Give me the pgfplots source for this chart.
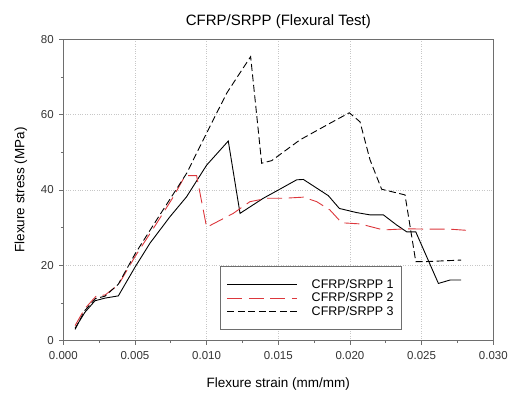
\documentclass[border=0pt]{standalone}
\usepackage{pgfplots}
\pgfplotsset{compat=1.18}
\usepackage{fontspec}
\setmainfont{Liberation Sans}
\definecolor{fr}{RGB}{220,55,60}
\definecolor{fgray}{RGB}{110,110,110}
\begin{document}
\begin{tikzpicture}
\path[use as bounding box] (-63.3bp,-53.3bp) rectangle (447.7bp,340.7bp);
\begin{axis}[
  scale only axis, width=430bp, height=301.4bp,
  at={(0,0)}, anchor=south west,
  xmin=0, xmax=0.030, ymin=0, ymax=80,
  xtick={0,0.005,...,0.030},
  xticklabels={0.000,0.005,0.010,0.015,0.020,0.025,0.030},
  ytick={0,20,40,60,80},
  minor xtick={0.0025,0.0075,...,0.0275},
  minor ytick={10,30,50,70},
  scaled x ticks=false,
  /pgf/number format/assume math mode=true,
  tick label style={font=\fontsize{11.5bp}{13bp}\selectfont, text=black!80},
  xticklabel style={yshift=-3bp},
  yticklabel style={xshift=-2bp},
  axis line style={fgray, line width=0.9pt},
  tick style={fgray, line width=0.8pt},
  tick align=outside,
  major tick length=4bp, minor tick length=2.5bp,
  xtick pos=bottom, ytick pos=left,
  grid=major,
  major grid style={dotted, black!22, line width=0.6pt},
  title={CFRP/SRPP (Flexural Test)},
  title style={font=\fontsize{15bp}{18bp}\selectfont, yshift=1bp},
  xlabel={Flexure strain (mm/mm)},
  ylabel={Flexure stress (MPa)},
  label style={font=\fontsize{13.5bp}{16bp}\selectfont},
  xlabel style={yshift=-12bp},
  ylabel style={yshift=7bp},
  legend style={at={(axis cs:0.01096,19.7)}, anchor=north west,
    draw=fgray, line width=0.9pt, font=\fontsize{12.5bp}{13bp}\selectfont,
    inner xsep=6bp, inner ysep=10.5bp, row sep=-1.2bp, column sep=12bp},
  legend cell align=left,
  legend image code/.code={\draw[#1] (0bp,0bp) -- (70bp,0bp);},
]
\addplot[black, line width=0.9pt] coordinates {
(0.00082,3.3) (0.00150,7.5) (0.00221,10.6) (0.0029,11.3) (0.00384,11.9)
(0.0050,19.5) (0.00605,25.9) (0.00744,32.9) (0.0086,38.2) (0.0100,46.6)
(0.01151,53.0) (0.01233,33.8) (0.01395,37.8) (0.0151,40.2) (0.01628,42.7)
(0.01675,42.8) (0.01849,38.5) (0.01926,35.1) (0.02047,34.0) (0.0214,33.4)
(0.02233,33.4) (0.02326,30.7) (0.02396,28.9) (0.02459,28.9) (0.02617,15.2)
(0.02698,16.1) (0.02775,16.1)};
\addlegendentry{CFRP/SRPP 1}
\addplot[fr, line width=0.9pt, dash pattern=on 15bp off 6.5bp] coordinates {
(0.00082,4.0) (0.0015,8.5) (0.00233,12.0) (0.0029,12.1) (0.00384,14.8)
(0.0050,22.3) (0.00652,31.2) (0.00768,38.2) (0.0085,43.8) (0.0093,43.8)
(0.0100,30.1) (0.01186,33.8) (0.01302,36.9) (0.0142,37.8) (0.01535,37.8)
(0.01675,38.1) (0.01768,36.9) (0.0186,34.7) (0.01942,31.3) (0.0207,31.0)
(0.02233,29.4) (0.02396,29.7) (0.0256,29.6) (0.0270,29.6) (0.0285,29.2)};
\addlegendentry{CFRP/SRPP 2}
\addplot[black, line width=0.9pt, dash pattern=on 7bp off 3.5bp] coordinates {
(0.00082,3.0) (0.0015,8.0) (0.00225,11.2) (0.0029,11.8) (0.00384,15.0)
(0.0050,23.0) (0.0065,32.0) (0.0086,44.4) (0.0100,55.1) (0.0114,65.7)
(0.01307,75.4) (0.01384,47.1) (0.01454,47.8) (0.01651,53.3) (0.0186,57.7)
(0.01995,60.5) (0.0207,58.1) (0.0214,48.0) (0.02221,40.2) (0.02384,38.7)
(0.02459,21.0) (0.02535,21.0) (0.02775,21.4)};
\addlegendentry{CFRP/SRPP 3}
\end{axis}
\end{tikzpicture}
\end{document}
